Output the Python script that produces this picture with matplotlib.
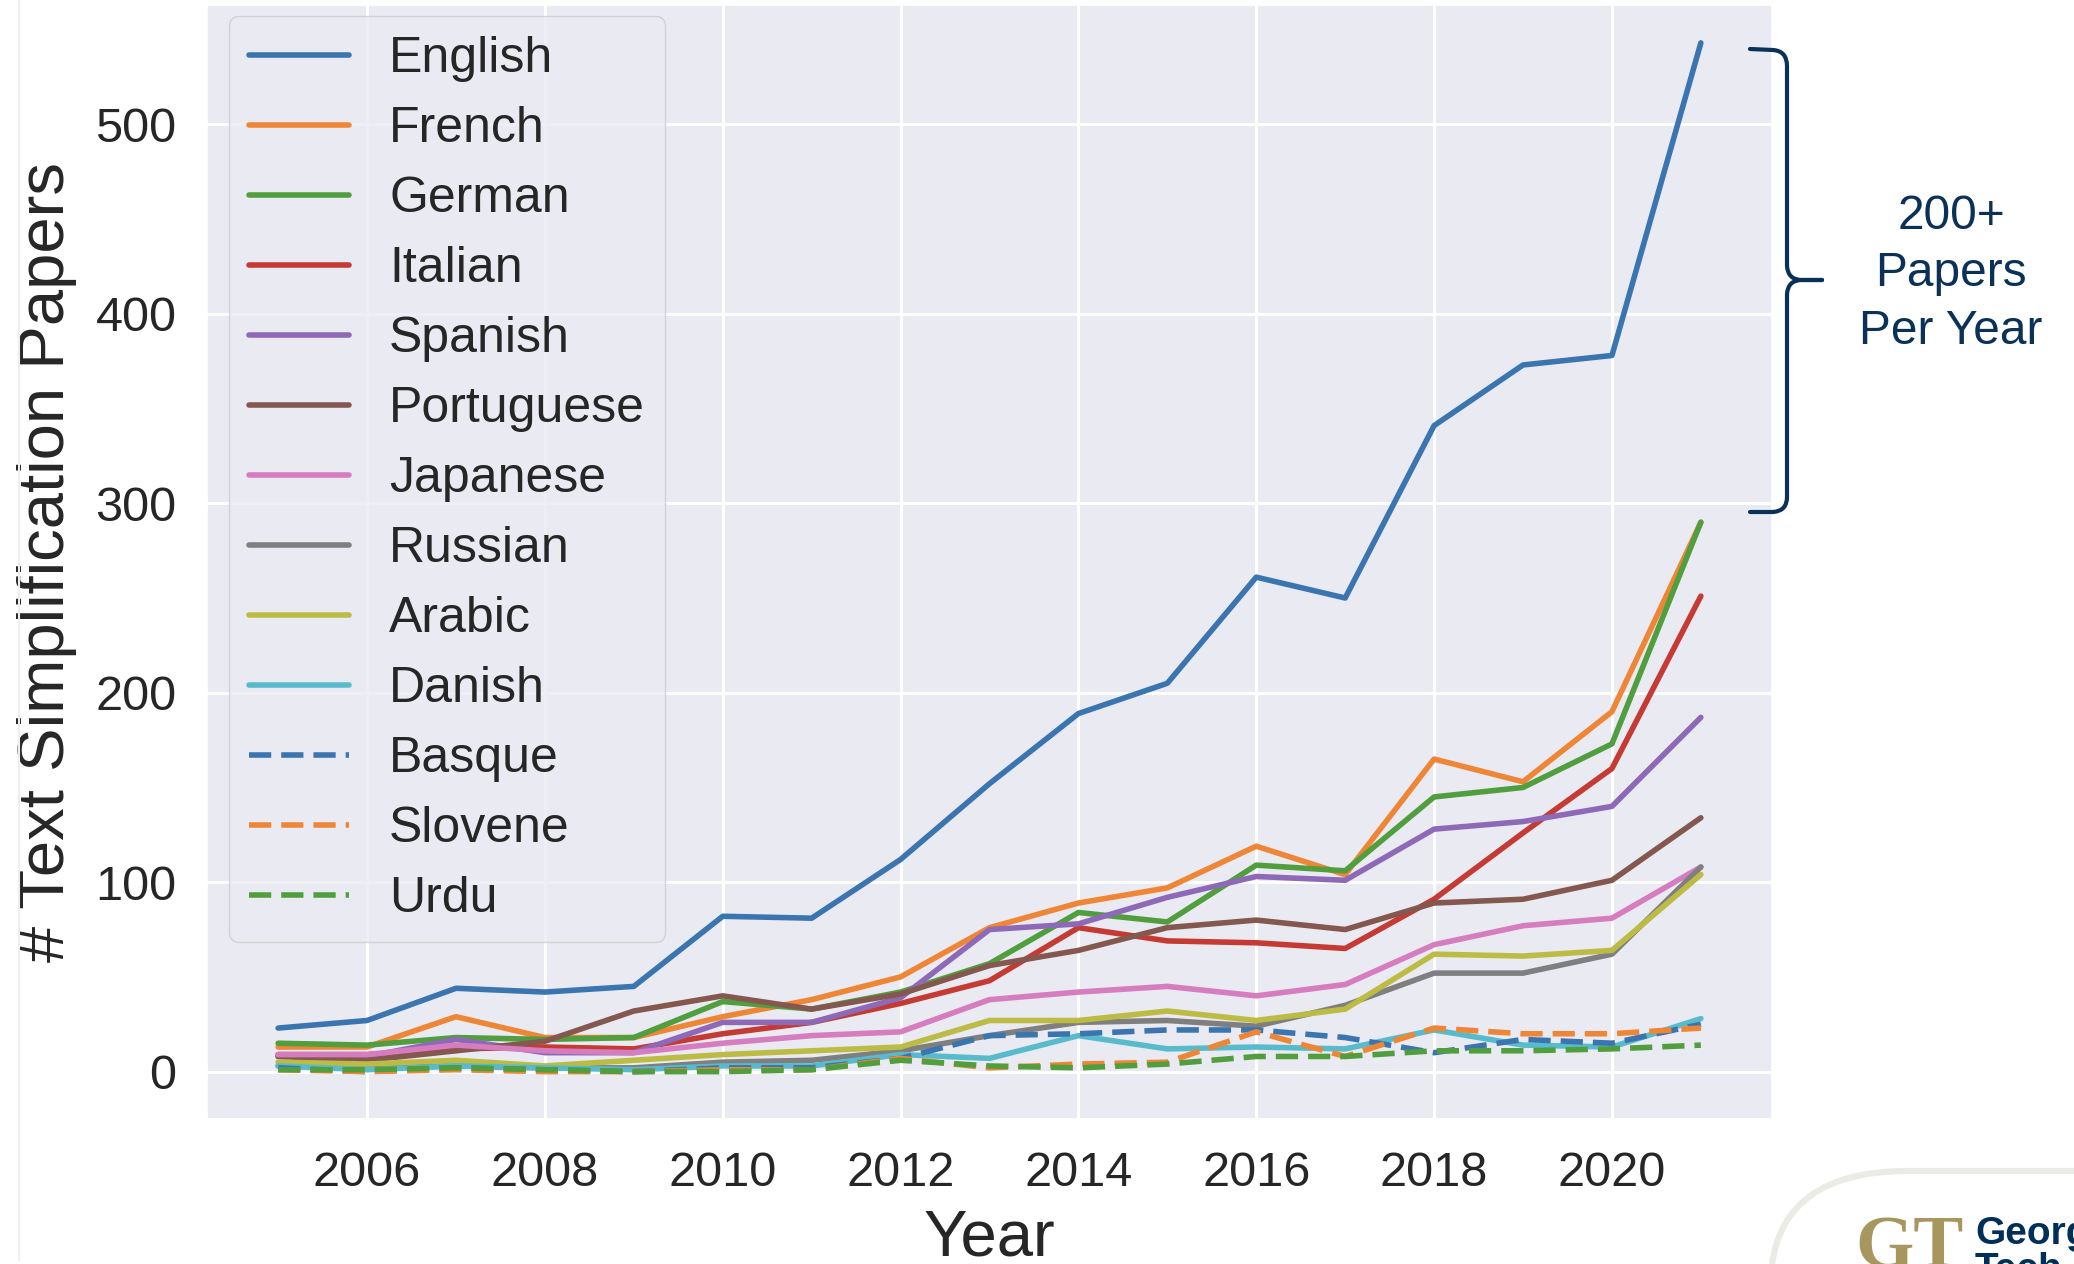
import matplotlib
matplotlib.use("Agg")
import matplotlib.pyplot as plt
from matplotlib.path import Path
from matplotlib.patches import PathPatch
from matplotlib.lines import Line2D
import seaborn as sns

years = list(range(2005, 2022))

english = [23, 27, 44, 42, 45, 82, 81, 112, 152, 189, 205, 261, 250, 341, 373, 378, 543]
french = [13, 13, 29, 18, 18, 29, 38, 50, 76, 89, 97, 119, 104, 165, 153, 190, 290]
german = [15, 14, 18, 17, 18, 37, 33, 42, 57, 84, 79, 109, 106, 145, 150, 173, 290]
italian = [9, 9, 12, 13, 12, 20, 26, 36, 48, 76, 69, 68, 65, 91, 126, 160, 251]
spanish = [8, 8, 17, 10, 10, 26, 26, 39, 75, 78, 92, 103, 101, 128, 132, 140, 187]
portuguese = [8, 6, 11, 16, 32, 40, 33, 41, 56, 64, 76, 80, 75, 89, 91, 101, 134]
japanese = [9, 9, 14, 11, 10, 15, 19, 21, 38, 42, 45, 40, 46, 67, 77, 81, 108]
russian = [3, 2, 3, 2, 2, 5, 6, 11, 19, 26, 27, 24, 35, 52, 52, 62, 108]
arabic = [5, 4, 6, 3, 6, 9, 11, 13, 27, 27, 32, 27, 33, 62, 61, 64, 104]
danish = [3, 1, 3, 2, 1, 3, 3, 9, 7, 19, 12, 13, 12, 22, 14, 13, 28]
basque = [2, 0, 2, 1, 0, 2, 2, 7, 19, 20, 22, 22, 18, 10, 17, 15, 25]
slovene = [1, 0, 1, 0, 0, 1, 1, 7, 2, 4, 5, 21, 8, 23, 20, 20, 23]
urdu = [1, 1, 2, 1, 0, 0, 1, 6, 3, 2, 4, 8, 8, 11, 11, 12, 14]

solid_names = ['English', 'French', 'German', 'Italian', 'Spanish', 'Portuguese',
               'Japanese', 'Russian', 'Arabic', 'Danish']
solid_series = [english, french, german, italian, spanish, portuguese,
                japanese, russian, arabic, danish]
dashed_names = ['Basque', 'Slovene', 'Urdu']
dashed_series = [basque, slovene, urdu]

annot_text = '200+\nPapers\nPer Year'

sns.set_theme(style='darkgrid')
plt.rcParams['font.family'] = ['Liberation Sans', 'DejaVu Sans']

W, H = 2074, 1264
navy = '#0b3158'
colors = ['#3b75af', '#ef8636', '#519e3e', '#c53a32', '#8d69b8',
          '#84584e', '#d57dbf', '#7f7f7f', '#bcbc45', '#58bbcc']


def fx(x):
    return x / W


def fy(y):
    return 1 - y / H


fig = plt.figure(figsize=(W / 100, H / 100), dpi=100)
ax = fig.add_axes([fx(207), fy(1119), (1772 - 207) / W, (1119 - 5) / H])
ax.grid(lw=2.2, color='white')

for name, vals, c in zip(solid_names, solid_series, colors):
    ax.plot(years, vals, color=c, lw=4, label=name)
for name, vals, c in zip(dashed_names, dashed_series, colors):
    ax.plot(years, vals, color=c, lw=4, ls=(0, (4, 1.8)), label=name)

ax.set_ylim(-25, 563)
ax.set_yticks([0, 100, 200, 300, 400, 500])
ax.set_xticks(range(2006, 2021, 2))
ax.tick_params(axis='both', labelsize=35, colors='#262626', length=0)
ax.tick_params(axis='y', pad=22)
ax.tick_params(axis='x', pad=23)
ax.set_xlabel('Year', fontsize=47, color='#262626')
ax.set_ylabel('# Text Simplification Papers', fontsize=47, color='#262626')
ax.yaxis.set_label_coords(-0.083, 0.5)
ax.xaxis.set_label_coords(0.5, -0.080)

ax.legend(loc='upper left', bbox_to_anchor=((229 - 207) / 1565, (1119 - 16) / 1114),
          borderaxespad=0, fontsize=36, handlelength=2.0, labelspacing=0.48)

# curly bracket on the right
up = [(1750, 49), (1773, 50), (1787, 51), (1787, 66), (1787, 266), (1788, 280),
      (1802, 280), (1822, 280)]
low = [(1822, 280), (1802, 280), (1788, 280), (1787, 294), (1787, 497),
       (1787, 511), (1773, 512), (1750, 512)]
codes = [Path.MOVETO, Path.LINETO, Path.CURVE3, Path.CURVE3, Path.LINETO,
         Path.CURVE3, Path.CURVE3, Path.LINETO]
for pts in [up, low]:
    p = Path([(fx(x), fy(y)) for x, y in pts], codes)
    fig.add_artist(PathPatch(p, transform=fig.transFigure, fill=False,
                             edgecolor=navy, lw=3.0, capstyle='round'))

fig.text(fx(1951), fy(274), annot_text, ha='center', va='center', fontsize=34.5,
         color=navy, linespacing=1.36)

# logo corner
arc = Path([(fx(1772), fy(1264)), (fx(1785), fy(1172)), (fx(1905), fy(1171)), (fx(2074), fy(1171))],
           [Path.MOVETO, Path.CURVE3, Path.CURVE3, Path.LINETO])
fig.add_artist(PathPatch(arc, transform=fig.transFigure, fill=False,
                         edgecolor='#ebebe6', lw=4.5))
fig.text(fx(1855), fy(1216), 'GT', ha='left', va='top', fontsize=54, fontweight='bold',
         family='Liberation Serif', color='#a8965f')
fig.text(fx(1975), fy(1216), 'Georgia\nTech', ha='left', va='top', fontsize=28,
         fontweight='bold', color='#00305a', linespacing=1.0)
fig.add_artist(Line2D([fx(19), fx(19)], [fy(0), fy(1260)], transform=fig.transFigure,
                      color='#eeeeee', lw=1.5))

fig.savefig('out.png', dpi=100, facecolor='white')
